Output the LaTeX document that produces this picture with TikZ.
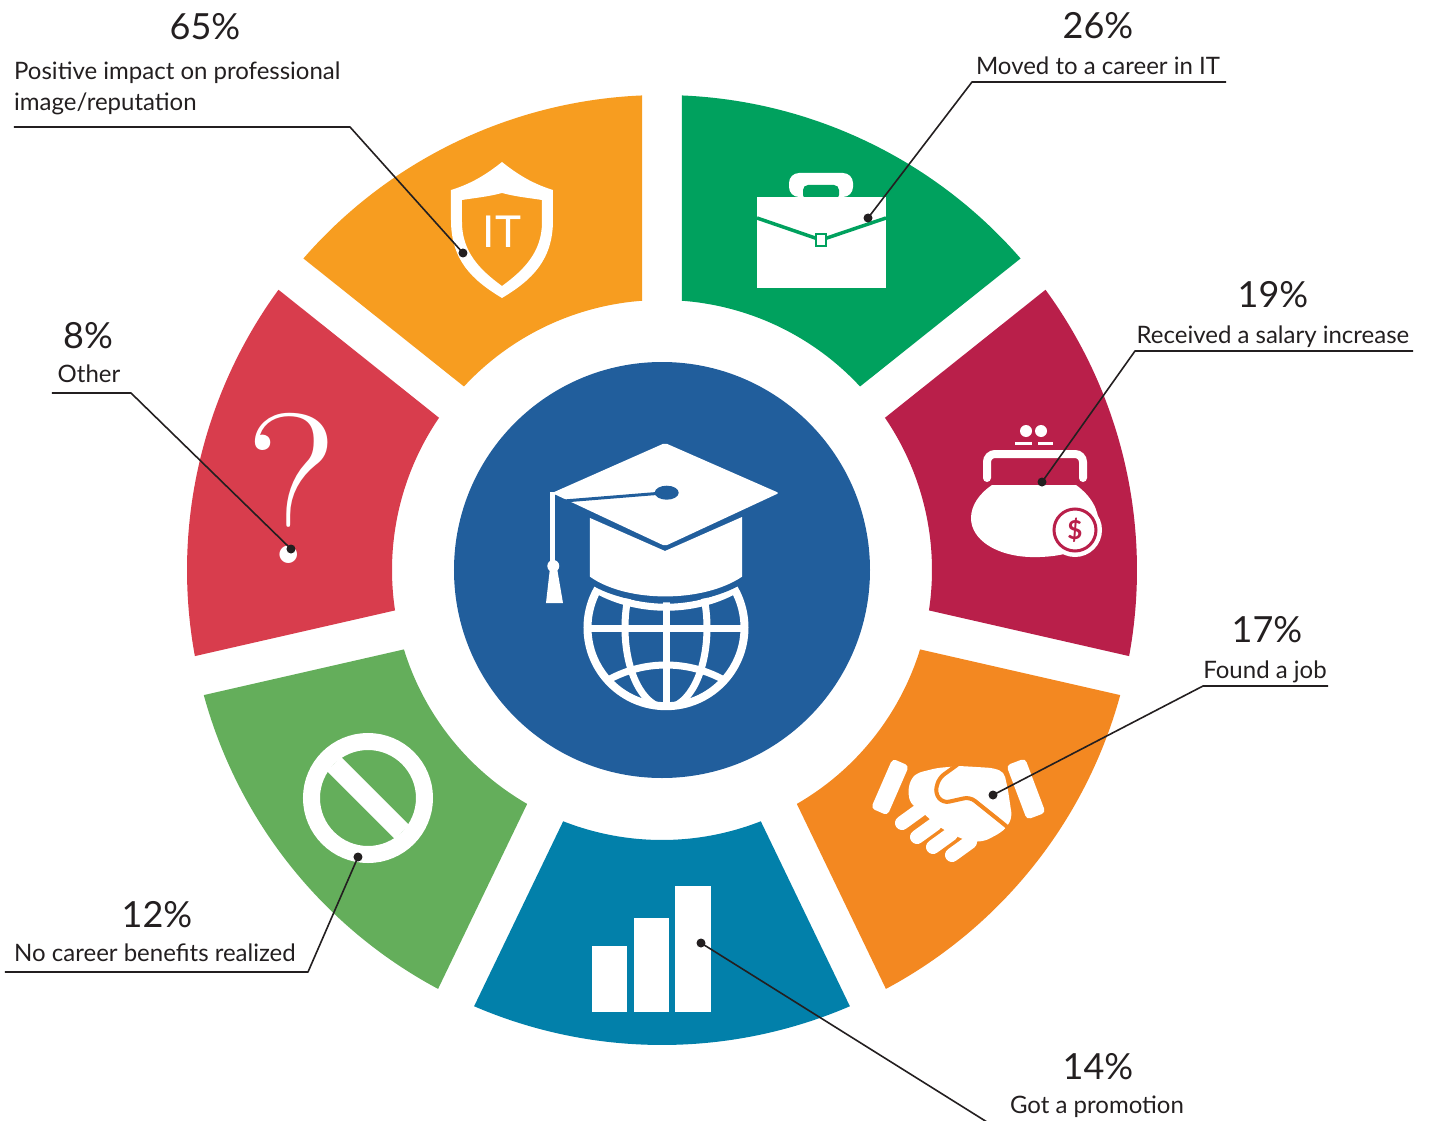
\documentclass[tikz,border=0pt]{standalone}
\usepackage{fontspec}
\setsansfont{Lato}
\usepackage{tikz}

\definecolor{ringorange}{HTML}{F79D20}
\definecolor{ringgreen}{HTML}{00A15E}
\definecolor{ringwine}{HTML}{B91F4A}
\definecolor{ringamber}{HTML}{F38821}
\definecolor{ringteal}{HTML}{0280AA}
\definecolor{ringlime}{HTML}{64AE5B}
\definecolor{ringred}{HTML}{D83D4D}
\definecolor{hubblue}{HTML}{215E9C}
\definecolor{ink}{HTML}{231F20}

\tikzset{
  pct/.style={font=\sffamily\fontsize{36}{36}\selectfont, text=ink, inner sep=0pt, anchor=base},
  lbl/.style={font=\sffamily\fontsize{24}{31}\selectfont, text=ink, inner sep=0pt, anchor=base},
  leader/.style={draw=ink, line width=1.6pt, line join=round},
  glyph/.style={white, line width=7pt}
}

\begin{document}
\begin{tikzpicture}[x=1pt,y=1pt]
\useasboundingbox (-662,-550) rectangle (767,570);

\fill[ringgreen] (40.984:475) arc[start angle=40.984,end angle=87.587,radius=475] -- (85.752:270) arc[start angle=85.752,end angle=42.819,radius=270] -- cycle;
\fill[ringwine] (-10.444:475) arc[start angle=-10.444,end angle=36.158,radius=475] -- (34.323:270) arc[start angle=34.323,end angle=-8.609,radius=270] -- cycle;
\fill[ringamber] (-61.873:475) arc[start angle=-61.873,end angle=-15.270,radius=475] -- (-17.105:270) arc[start angle=-17.105,end angle=-60.038,radius=270] -- cycle;
\fill[ringteal] (-113.301:475) arc[start angle=-113.301,end angle=-66.699,radius=475] -- (-68.534:270) arc[start angle=-68.534,end angle=-111.466,radius=270] -- cycle;
\fill[ringlime] (-164.730:475) arc[start angle=-164.730,end angle=-118.127,radius=475] -- (-119.962:270) arc[start angle=-119.962,end angle=-162.895,radius=270] -- cycle;
\fill[ringred] (143.842:475) arc[start angle=143.842,end angle=190.444,radius=475] -- (188.609:270) arc[start angle=188.609,end angle=145.677,radius=270] -- cycle;
\fill[ringorange] (92.413:475) arc[start angle=92.413,end angle=139.016,radius=475] -- (137.181:270) arc[start angle=137.181,end angle=94.248,radius=270] -- cycle;

\fill[hubblue] (0,0) circle[radius=208];
\draw[white, line width=8pt] (4,-57.7) circle[radius=78.5];
\begin{scope}
\clip (4,-57.7) circle[radius=78];
\draw[glyph] (4,-140) -- (4,30);
\draw[glyph] (-80,-58) -- (90,-58);
\draw[glyph] (4,-57.7) ellipse[x radius=41, y radius=80];
\draw[glyph] (-75,-125) .. controls (-30,-85) and (38,-85) .. (83,-125);
\draw[glyph] (-75,-14) .. controls (-30,-45) and (38,-45) .. (83,-14);
\end{scope}
\draw[hubblue, line width=12pt, line join=round] (-72,52) -- (3,19) -- (80,53) -- (80,-6.7) .. controls (41,-33) and (-35,-33) .. (-72,-6.7) -- cycle;
\fill[white] (-72,52) -- (3,19) -- (80,53) -- (80,-6.7) .. controls (41,-33) and (-35,-33) .. (-72,-6.7) -- cycle;
\fill[white, rounded corners=2pt] (3,127) -- (117,77) -- (3,24) -- (-110,77) -- cycle;
\draw[hubblue, line width=3pt] (4.7,77.3) -- (-98,69);
\fill[hubblue] (4.7,77.3) ellipse[x radius=12, y radius=7];
\draw[white, line width=5pt] (-109.5,78) -- (-109.5,4);
\fill[white] (-108.7,4) circle[radius=6];
\fill[white] (-112,2) -- (-105,2) -- (-99,-33) -- (-116,-33) -- cycle;

\fill[white, even odd rule] (-160,408) .. controls (-180,392) and (-195,385) .. (-211,380) -- (-211,350) .. controls (-211,310) and (-190,290) .. (-160,272) .. controls (-130,290) and (-109,310) .. (-109,350) -- (-109,380) .. controls (-125,385) and (-140,392) .. (-160,408) -- cycle
  (-160,377) .. controls (-175,373) and (-188,372) .. (-200,370) -- (-200,348) .. controls (-200,318) and (-182,300) .. (-160,284) .. controls (-138,300) and (-120,318) .. (-120,348) -- (-120,370) .. controls (-132,372) and (-145,373) .. (-160,377) -- cycle;
\node[font=\sffamily\fontsize{44}{44}\selectfont, text=white, inner sep=0pt] (itmark) at (-160,338) {IT};

\fill[white, rounded corners=10pt] (127,373) -- (127,397) -- (191,397) -- (191,373) -- cycle;
\fill[ringgreen, rounded corners=5pt] (141,370) -- (141,385) -- (177,385) -- (177,370) -- cycle;
\fill[white] (95,282) rectangle (224,373);
\draw[ringgreen, line width=3.5pt] (95,352) -- (159,330) -- (224,352);
\filldraw[fill=white, draw=ringgreen, line width=2.5pt] (154,324) rectangle (164,336);

\draw[white, line width=8pt, rounded corners=8pt, line cap=round] (325,92) -- (325,116) -- (421,116) -- (421,92);
\fill[white] (330,85) -- (414,85) .. controls (428,75) and (438,60) .. (436,45) .. controls (432,20) and (400,12) .. (368,13) .. controls (335,14) and (309,30) .. (309,52) .. controls (309,65) and (318,77) .. (330,85) -- cycle;
\fill[white] (364,139) circle[radius=6] (379,139) circle[radius=6];
\draw[white, line width=3pt] (353,127) -- (370,127) (376,127) -- (391,127);
\fill[white] (413,40) circle[radius=27];
\draw[ringwine, line width=3pt] (413,40) circle[radius=21];
\node[font=\sffamily\bfseries\fontsize{26}{26}\selectfont, text=ringwine, inner sep=0pt] (coin) at (413,40) {\$};

\begin{scope}[shift={(293,-235)}]
\fill[white, rounded corners=4pt, rotate around={-23.5:(-65,18)}] (-74,-9) rectangle (-56,45);
\fill[white, rounded corners=4pt, rotate around={20.7:(71,16)}] (61,-13) rectangle (81,45);
\draw[ringamber, line width=22pt, line cap=round] (-53,-18) -- (-35,-5) (-38,-32) -- (-20,-19) (-22,-42) -- (-4,-29) (-3,-50) -- (15,-37);
\draw[white, line width=14pt, line cap=round] (-53,-18) -- (-35,-5) (-38,-32) -- (-20,-19) (-22,-42) -- (-4,-29) (-3,-50) -- (15,-37);
\fill[white, rounded corners=5pt] (-44,26) -- (-38,32) -- (-18,37) -- (5,39) -- (38,37) -- (49,33) -- (53,15) -- (57,-12) -- (52,-22) -- (45,-28) -- (30,-36) -- (15,-37) -- (-4,-29) -- (-20,-19) -- (-35,-5) -- (-45,2) -- (-47,15) -- cycle;
\draw[ringamber, line width=4pt, rounded corners=6pt] (2,40) -- (-16,27) -- (-20,12) -- (-12,2) -- (15,8) -- (45,-16) -- (56,-25);
\end{scope}

\fill[white] (-70,-442) rectangle (-35,-376);
\fill[white] (-28,-442) rectangle (7,-348);
\fill[white] (13,-442) rectangle (49,-316);

\draw[white, line width=17pt] (-294,-228) circle[radius=56.5];
\fill[white, rotate around={-45:(-294,-228)}] (-342,-238) rectangle (-246,-218);

\node[font=\rmfamily\fontsize{214}{214}\selectfont, text=white, inner sep=0pt, anchor=base] (qmark) at (-370,7) {?};

\node[pct] (n65) at (-457,530) {65\%};
\node[lbl, anchor=base west, align=left] (t65) at (-648,459) {Positive impact on professional\\image/reputation};
\node[pct] (n26) at (436,531) {26\%};
\node[lbl] (t26) at (436,495) {Moved to a career in IT};
\node[pct] (n19) at (611,262) {19\%};
\node[lbl] (t19) at (611,227) {Received a salary increase};
\node[pct] (n17) at (605,-72) {17\%};
\node[lbl] (t17) at (603,-108) {Found a job};
\node[pct] (n14) at (436,-509) {14\%};
\node[lbl] (t14) at (435,-543) {Got a promotion};
\node[pct] (n12) at (-505,-357) {12\%};
\node[lbl] (t12) at (-507,-391) {No career benefits realized};
\node[pct] (n8) at (-574,222) {8\%};
\node[lbl] (t8) at (-573,188) {Other};

\coordinate (p65) at (-199,317);
\coordinate (k65) at (-312,443);
\coordinate (e65) at (-648,443);
\coordinate (p26) at (206,352);
\coordinate (k26) at (310,488);
\coordinate (e26) at (564,488);
\coordinate (p19) at (380,88);
\coordinate (k19) at (473,219);
\coordinate (e19) at (751,219);
\coordinate (p17) at (331,-225);
\coordinate (k17) at (541,-116);
\coordinate (e17) at (666,-116);
\coordinate (p14) at (39,-373);
\coordinate (k14) at (325,-552);
\coordinate (p12) at (-304,-287);
\coordinate (k12) at (-354,-402);
\coordinate (e12) at (-657,-402);
\coordinate (p8) at (-371,21);
\coordinate (k8) at (-531,177);
\coordinate (e8) at (-610,177);

\draw[leader] (p65) -- (k65) -- (e65);
\draw[leader] (p26) -- (k26) -- (e26);
\draw[leader] (p19) -- (k19) -- (e19);
\draw[leader] (p17) -- (k17) -- (e17);
\draw[leader] (p14) -- (k14);
\draw[leader] (p12) -- (k12) -- (e12);
\draw[leader] (p8) -- (k8) -- (e8);
\fill[ink] (p65) circle[radius=4.5] (p26) circle[radius=4.5] (p19) circle[radius=4.5] (p17) circle[radius=4.5] (p14) circle[radius=4.5] (p12) circle[radius=4.5] (p8) circle[radius=4.5];
\end{tikzpicture}
\end{document}
